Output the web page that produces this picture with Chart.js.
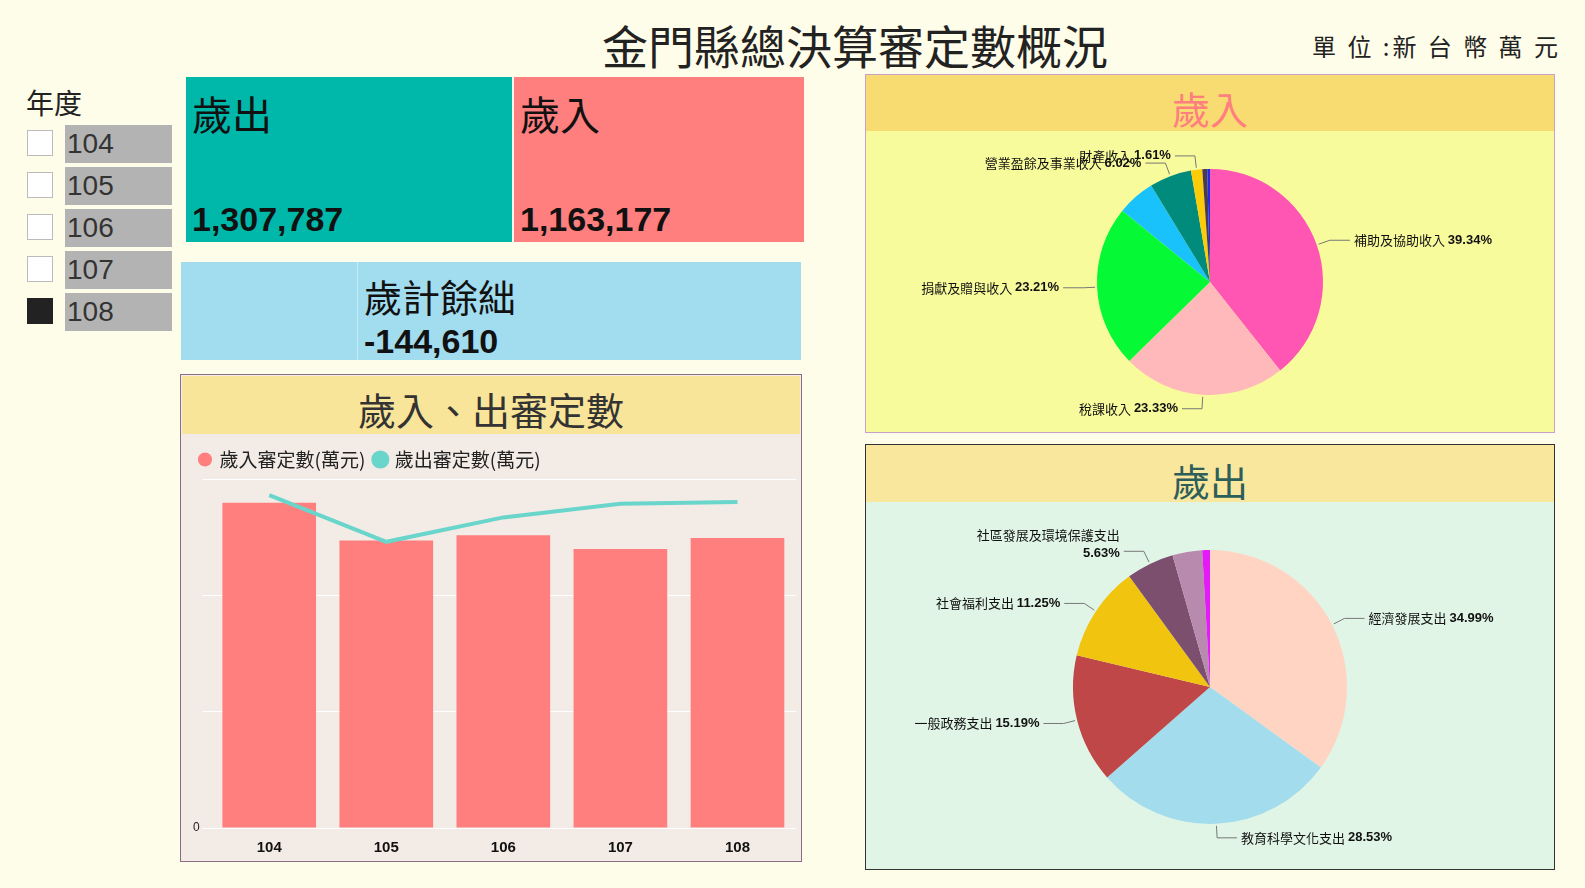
<!DOCTYPE html>
<html><head><meta charset="utf-8">
<script src="https://cdn.jsdelivr.net/npm/chart.js@4.4.0/dist/chart.umd.min.js"></script>
<style>
body{margin:0;width:1585px;height:888px;background:#FEFDE9;font-family:"Noto Sans CJK TC","Noto Sans",sans-serif;position:relative;overflow:hidden}
.a{position:absolute}
.cb{position:absolute;left:27px;width:26px;height:26px;border:1px solid #bbb;background:#fff;box-sizing:border-box}
.yl{position:absolute;left:65px;width:107px;height:38px;background:#B3B3B3;color:#333;font:28px "Liberation Sans",sans-serif;line-height:38px;padding-left:2px;box-sizing:border-box}
</style></head><body>
<div class="a" style="left:560px;top:12px;width:590px;text-align:center;font-size:46px;color:#222;line-height:64px">金門縣總決算審定數概況</div>
<div class="a" style="left:1312px;top:28px;font-size:24px;letter-spacing:3px;color:#222">單 位 :新 台 幣 萬 元</div>
<div class="a" style="left:26px;top:82px;font-size:28px;color:#222">年度</div>
<div id="years"></div>
<div class="a" style="left:186px;top:77px;width:326px;height:165px;background:#00B8AA"></div>
<div class="a" style="left:514px;top:77px;width:290px;height:165px;background:#FF7F7F"></div>
<div class="a" style="left:192px;top:84px;font-size:40px;color:#111">歲出</div>
<div class="a" style="left:520px;top:84px;font-size:40px;color:#111">歲入</div>
<div class="a" id="vexp" style="left:192px;top:200px;font:bold 34px 'Liberation Sans',sans-serif;color:#111"></div>
<div class="a" id="vrev" style="left:520px;top:200px;font:bold 34px 'Liberation Sans',sans-serif;color:#111"></div>
<div class="a" style="left:181px;top:262px;width:620px;height:98px;background:#A2DCEF"></div>
<div class="a" style="left:357px;top:262px;width:1px;height:98px;background:#c8ecf7"></div>
<div class="a" style="left:364px;top:268px;font-size:38px;color:#111">歲計餘絀</div>
<div class="a" id="vbal" style="left:364px;top:322px;font:bold 34px 'Liberation Sans',sans-serif;color:#111"></div>
<div class="a" style="left:180px;top:374px;width:620px;height:486px;background:#F3ECE6;border:1px solid #8C6E84"></div>
<div class="a" style="left:182px;top:376px;width:618px;height:58px;background:#F9E59A;text-align:center;font-size:38px;line-height:66px;color:#333">歲入、出審定數</div>
<div class="a" style="left:182px;top:440px;width:618px;height:420px"><canvas id="bar" width="618" height="420"></canvas></div>
<div class="a" style="left:865px;top:74px;width:688px;height:357px;border:1px solid #C9A0C8;background:#F8FB9C"></div>
<div class="a" style="left:866px;top:75px;width:688px;height:56px;background:#F8DC72;text-align:center;font-size:38px;line-height:66px;color:#FF7F7F">歲入</div>
<div class="a" style="left:866px;top:131px;"><canvas id="p1" width="688" height="301"></canvas></div>
<div class="a" style="left:865px;top:444px;width:688px;height:424px;border:1px solid #333;background:#E1F5E7"></div>
<div class="a" style="left:866px;top:445px;width:688px;height:57px;background:#F9E79E;text-align:center;font-size:38px;line-height:70px;color:#2E5E5A">歲出</div>
<div class="a" style="left:866px;top:502px;"><canvas id="p2" width="688" height="366"></canvas></div>
<script>
const years=['104','105','106','107','108'];
const revenue=[1305000,1153000,1174000,1119000,1163177];
const expenditure=[1335000,1148000,1246000,1301000,1307787];
const revCats=['補助及協助收入','稅課收入','捐獻及贈與收入','規費收入','營業盈餘及事業收入','財產收入','罰款及賠償收入','其他收入'];
const revPct=[39.34,23.33,23.21,5.40,6.02,1.61,0.70,0.39];
const revColors=['#FF55B3','#FFB9BA','#05FA35','#19C2FB','#008B7C','#FACC0A','#4B3A55','#1A2EE8'];
const revShow=[1,1,1,0,1,1,0,0];
const expCats=['經濟發展支出','教育科學文化支出','一般政務支出','社會福利支出','社區發展及環境保護支出','退休撫卹支出','其他支出'];
const expPct=[34.99,28.53,15.19,11.25,5.63,3.50,0.91];
const expColors=['#FFD4C2','#A3DCEC','#C04747','#F1C40F','#7C4F6F','#B88AAE','#E41BF6'];
const expShow=[1,1,1,1,2,0,0];
const sel='108';
const fmt=v=>v.toLocaleString('en-US');
const yd=document.getElementById('years');
years.forEach((y,i)=>{const t=128+i*42;
 yd.insertAdjacentHTML('beforeend',`<div class="cb" style="top:${t+2}px;${y===sel?'background:#222;border-color:#222':''}"></div><div class="yl" style="top:${t-3}px">${y}</div>`);});
const k=years.indexOf(sel);
document.getElementById('vexp').textContent=fmt(expenditure[k]);
document.getElementById('vrev').textContent=fmt(revenue[k]);
document.getElementById('vbal').textContent=fmt(revenue[k]-expenditure[k]);
new Chart(document.getElementById('bar'),{data:{labels:years,datasets:[
 {type:'line',label:'歲出審定數(萬元)',data:expenditure,borderColor:'#6AD5CB',backgroundColor:'#6AD5CB',borderWidth:4,pointRadius:0,tension:0,order:0},
 {type:'bar',label:'歲入審定數(萬元)',data:revenue,backgroundColor:'#FF7F7F',categoryPercentage:0.8,barPercentage:1,order:1}]},
 options:{responsive:false,animation:false,layout:{padding:{left:8,right:4}},
 plugins:{legend:{position:'top',align:'start',reverse:true,labels:{usePointStyle:true,pointStyle:'circle',boxWidth:10,boxHeight:10,padding:10,color:'#222',font:{size:19,family:'Noto Sans CJK TC'}}},tooltip:{enabled:false}},
 scales:{x:{grid:{display:false},border:{display:false},ticks:{color:'#111',font:{size:15,weight:'bold',family:'Liberation Sans'}}},
 y:{min:0,max:1400000,border:{display:false},grid:{color:'#fff',borderDash:[2,6]},ticks:{stepSize:500000,color:'#222',font:{size:12,family:'Liberation Sans'},callback:v=>v%500000===0?fmt(v):''}}}}});
const labelPlugin={id:'lbl',afterDraw(c,a,o){const ctx=c.ctx,ds=c.data.datasets[0],meta=c.getDatasetMeta(0);
 meta.data.forEach((arc,i)=>{const s=o.show[i];if(!s)return;const m=(arc.startAngle+arc.endAngle)/2,r=arc.outerRadius;
 const cx=arc.x,cy=arc.y,x1=cx+Math.cos(m)*(r+2),y1=cy+Math.sin(m)*(r+2),x2=cx+Math.cos(m)*(r+14),y2=cy+Math.sin(m)*(r+14);
 const right=Math.cos(m)>=0,x3=x2+(right?20:-20);
 ctx.save();ctx.strokeStyle='#777';ctx.lineWidth=1;ctx.beginPath();ctx.moveTo(x1,y1);ctx.lineTo(x2,y2);ctx.lineTo(x3,y2);ctx.stroke();
 ctx.textBaseline='middle';const nf='13px "Noto Sans CJK TC"',bf='bold 13px "Liberation Sans"';
 const name=c.data.labels[i]+' ',pct=ds.data[i].toFixed(2)+'%';ctx.fillStyle='#111';
 if(s===2){ctx.textAlign='right';ctx.font=nf;ctx.fillText(c.data.labels[i],x3-4,y2-16);ctx.font=bf;ctx.fillText(pct,x3-4,y2+2);}
 else{ctx.font=nf;const nw=ctx.measureText(name).width;ctx.font=bf;const pw=ctx.measureText(pct).width;
 let x=right?x3+4:x3-4-nw-pw;ctx.textAlign='left';ctx.font=nf;ctx.fillText(name,x,y2);ctx.font=bf;ctx.fillText(pct,x+nw,y2);}
 ctx.restore();});}};
function pie(id,labels,data,colors,show,pad){new Chart(document.getElementById(id),{type:'pie',plugins:[labelPlugin],
 data:{labels,datasets:[{data,backgroundColor:colors,borderWidth:0}]},
 options:{responsive:false,animation:false,layout:{padding:pad},plugins:{legend:{display:false},tooltip:{enabled:false},lbl:{show}}}});}
pie('p1',revCats,revPct,revColors,revShow,{top:38,bottom:37,left:0,right:0});
pie('p2',expCats,expPct,expColors,expShow,{top:48,bottom:44,left:0,right:0});
</script></body></html>
